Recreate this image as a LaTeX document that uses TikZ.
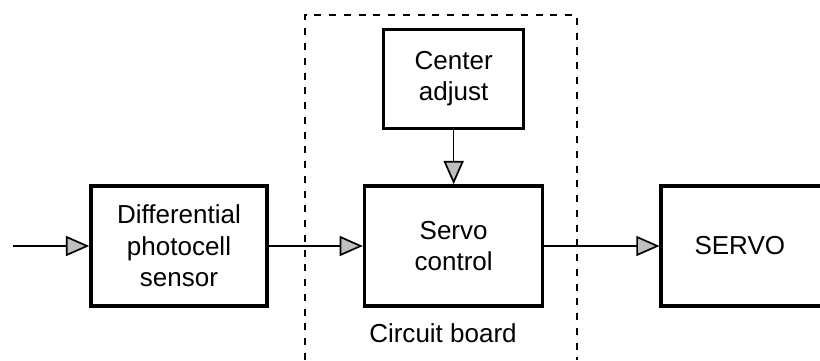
\documentclass[tikz,border=0pt]{standalone}
\usepackage{fontspec}
\setsansfont{Liberation Sans}
\usepackage{tikz}
\usetikzlibrary{arrows.meta,positioning}

\begin{document}
\begin{tikzpicture}[
  box/.style={rectangle, draw=black, line width=2.6pt, minimum height=3cm,
              align=center, font=\sffamily\fontsize{18.5}{22.4}\selectfont},
  arrow/.style={-{Triangle[length=0.58cm, width=0.5cm, fill=gray!50, line width=1.2pt]}, line width=1.1pt},
  board/.style={line width=1.2pt, dash pattern=on 5pt off 5.5pt},
  label/.style={font=\sffamily\fontsize{18.5}{22.4}\selectfont}
]
\clip (0,0) rectangle (20.5,9);
% blocks
\node[box, minimum width=4.4cm] (D) at (4.475,2.85) {Differential\\photocell\\sensor};
\node[box, minimum width=4.45cm, right=2.35cm of D] (S) {Servo\\control};
\node[box, minimum width=3.5cm, minimum height=2.475cm, above=1.35cm of S] (C) {Center\\adjust};
\node[box, text width=3.6cm, align=left, inner xsep=0.83cm, right=2.875cm of S] (V) {SERVO};
\coordinate (in) at (0.325,2.85);
% circuit board frame
\draw[board] (7.625,0) -- (7.625,8.625) -- (14.425,8.625) -- (14.425,0);
\node[label] (B) at (11.075,0.675) {Circuit board};
% signal path
\draw[arrow] (in) -- (D);
\draw[arrow] (D) -- (S);
\draw[arrow] (C) -- (S);
\draw[arrow] (S) -- (V);
\end{tikzpicture}
\end{document}
